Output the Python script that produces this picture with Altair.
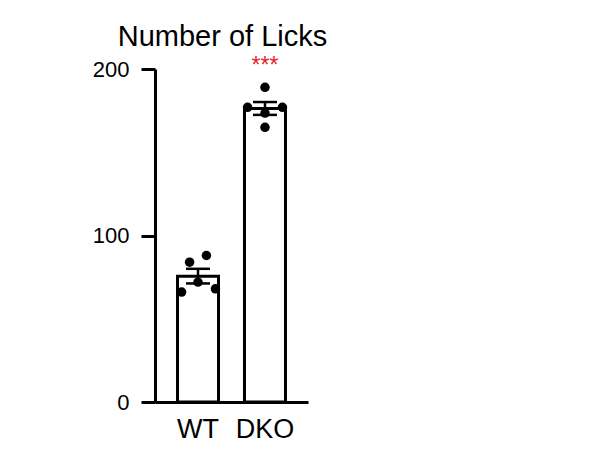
import altair as alt
import pandas as pd

# Data
groups = ["WT", "WT", "WT", "WT", "WT", "DKO", "DKO", "DKO", "DKO", "DKO"]
licks = [84, 88, 72, 66, 68, 189, 177, 177, 173.5, 165]
jitter = [-0.41, 0.41, 0.0, -0.8, 0.85, 0.0, -0.85, 0.85, 0.0, 0.0]
categories = ["WT", "DKO"]
sig_group = ["DKO"]
sig_label = ["***"]
sig_level = [197.5]
y_ticks = [0, 100, 200]

df = pd.DataFrame({"group": groups, "licks": licks, "jitter": jitter})
sig = pd.DataFrame({"group": sig_group, "label": sig_label, "level": sig_level})

FONT = "Liberation Sans"

x_enc = alt.X(
    "group:N",
    sort=categories,
    scale=alt.Scale(paddingInner=0.388, paddingOuter=0.336),
    axis=alt.Axis(
        title=None, labelAngle=0, ticks=False, domainWidth=3, domainColor="black",
        labelFontSize=27, labelFont=FONT, labelColor="black", labelPadding=14,
    ),
)
y_scale = alt.Scale(domain=[0, 200], nice=False)
y_axis = alt.Axis(
    title=None, values=y_ticks, grid=False, domainWidth=3, domainColor="black",
    tickSize=14, tickWidth=3, tickColor="black", labelFontSize=22, labelFont=FONT,
    labelColor="black", labelPadding=12,
)

bars = alt.Chart(df).mark_bar(fill="white", stroke="black", strokeWidth=3).encode(
    x=x_enc,
    y=alt.Y("mean(licks):Q", scale=y_scale, axis=y_axis),
)

err = alt.Chart(df).mark_errorbar(
    extent="stderr",
    ticks={"size": 24, "thickness": 2.5, "color": "black", "opacity": 1},
    rule={"strokeWidth": 2.5, "color": "black", "opacity": 1},
).encode(
    x=alt.X("group:N", sort=categories),
    y=alt.Y("licks:Q", scale=y_scale),
)

pts = alt.Chart(df).mark_circle(size=90, color="black", opacity=1).encode(
    x=alt.X("group:N", sort=categories),
    xOffset=alt.XOffset("jitter:Q", scale=alt.Scale(domain=[-1, 1])),
    y=alt.Y("licks:Q", scale=y_scale),
)

stars = alt.Chart(sig).mark_text(
    color="#e3262b", fontSize=23, font=FONT, baseline="alphabetic", align="center"
).encode(
    x=alt.X("group:N", sort=categories),
    y=alt.Y("level:Q", scale=y_scale),
    text="label:N",
)

chart = alt.layer(bars, err, pts, stars).resolve_scale(
    xOffset="independent"
).properties(
    width=153,
    height=333,
    background="white",
    title=alt.TitleParams(
        "Number of Licks", fontSize=29, font=FONT, fontWeight="normal",
        color="black", anchor="middle", dx=-9, offset=3,
    ),
    autosize="none",
    padding={"left": 147, "top": 61, "right": 290, "bottom": 40},
).configure_view(strokeWidth=0, stroke=None)

chart.save("out.html", embed_options={"renderer": "svg", "actions": False})
